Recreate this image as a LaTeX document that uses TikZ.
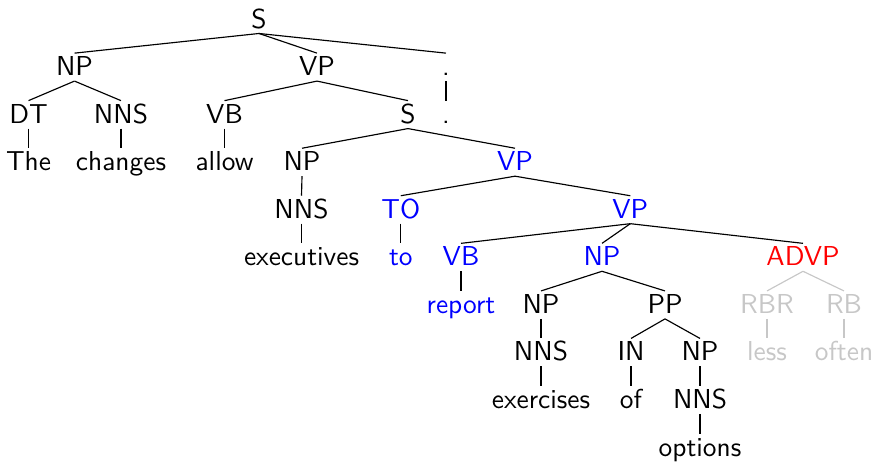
\documentclass[tikz,border=0pt]{standalone}
\usepackage{fontspec}
\begin{document}
\begin{tikzpicture}[
    x=0.365pt, y=-0.365pt,
    tn/.style={anchor=base, text height=6.2pt, text depth=0pt,
               inner xsep=1pt, inner ysep=1.8pt, font=\sffamily},
    hl/.style={tn, text=blue},
    alert/.style={tn, text=red},
    faded/.style={tn, text=black!22},
    edge/.style={draw=black, line width=0.42pt},
    fadededge/.style={draw=black!22, line width=0.42pt}
  ]
  \useasboundingbox (0,0) rectangle (874,461);

  % baselines of the tree levels
  \def\la{28}\def\lb{75.6}\def\lc{123.1}\def\ld{170.7}\def\le{218.2}
  \def\lf{265.8}\def\lg{313.4}\def\lh{360.9}\def\li{408.5}\def\lj{456}

  % level 0
  \node[tn] (s0) at (259,\la) {S};
  % level 1
  \node[tn] (np1) at (74.5,\lb) {NP};
  \node[tn] (vp1) at (317,\lb) {VP};
  \node[tn] (pu1) at (446,\lb) {.};
  % level 2
  \node[tn] (dt2) at (28.5,\lc) {DT};
  \node[tn] (nns2) at (121,\lc) {NNS};
  \node[tn] (vb2) at (224.5,\lc) {VB};
  \node[tn] (s2) at (408,\lc) {S};
  \node[tn] (pu2) at (446,\lc) {.};
  % level 3
  \node[tn] (the) at (28.5,\ld) {The};
  \node[tn] (changes) at (121,\ld) {changes};
  \node[tn] (allow) at (224.5,\ld) {allow};
  \node[tn] (np3) at (302,\ld) {NP};
  \node[hl] (vp3) at (515,\ld) {VP};
  % level 4
  \node[tn] (nns4) at (301.5,\le) {NNS};
  \node[hl] (to4) at (400.8,\le) {TO};
  \node[hl] (vp4) at (630.3,\le) {VP};
  % level 5
  \node[tn] (executives) at (301.5,\lf) {executives};
  \node[hl] (to) at (400.8,\lf) {to};
  \node[hl] (vb5) at (461,\lf) {VB};
  \node[hl] (np5) at (602,\lf) {NP};
  \node[alert] (advp5) at (803,\lf) {ADVP};
  % level 6
  \node[hl] (report) at (461,\lg) {report};
  \node[tn] (np6) at (541,\lg) {NP};
  \node[tn] (pp6) at (665,\lg) {PP};
  \node[faded] (rbr6) at (767,\lg) {RBR};
  \node[faded] (rb6) at (844,\lg) {RB};
  % level 7
  \node[tn] (nns7) at (541,\lh) {NNS};
  \node[tn] (in7) at (631,\lh) {IN};
  \node[tn] (np7) at (700,\lh) {NP};
  \node[faded] (less) at (767,\lh) {less};
  \node[faded] (often) at (844,\lh) {often};
  % level 8
  \node[tn] (exercises) at (541,\li) {exercises};
  \node[tn] (of) at (631,\li) {of};
  \node[tn] (nns8) at (700,\li) {NNS};
  % level 9
  \node[tn] (options) at (700,\lj) {options};

  % branches
  \foreach \p/\c in {s0/np1, s0/vp1, s0/pu1, pu1/pu2,
                     np1/dt2, np1/nns2, dt2/the, nns2/changes,
                     vp1/vb2, vp1/s2, vb2/allow,
                     s2/np3, s2/vp3, np3/nns4, nns4/executives,
                     vp3/to4, vp3/vp4, to4/to,
                     vp4/vb5, vp4/np5, vp4/advp5, vb5/report,
                     np5/np6, np5/pp6, np6/nns7, nns7/exercises,
                     pp6/in7, pp6/np7, in7/of, np7/nns8, nns8/options}
    \draw[edge] (\p.south) -- (\c.north);
  \foreach \p/\c in {advp5/rbr6, advp5/rb6, rbr6/less, rb6/often}
    \draw[fadededge] (\p.south) -- (\c.north);
\end{tikzpicture}
\end{document}
